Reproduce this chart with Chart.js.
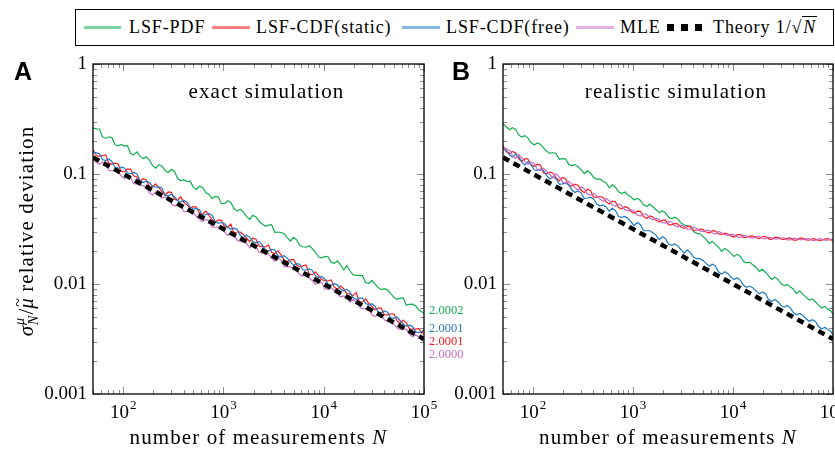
<!DOCTYPE html>
<html>
<head>
<meta charset="utf-8">
<script src="https://cdn.jsdelivr.net/npm/chart.js@4.4.1/dist/chart.umd.min.js"></script>
<style>
  body { margin: 0; width: 835px; height: 450px; overflow: hidden; background: #fff; position: relative; font-family: "Liberation Serif", serif; }
  canvas { position: absolute; top: 0; }
  #cA { left: 0; }
  #cB { left: 450px; }
  #legend { position: absolute; left: 75px; top: 9px; width: 757px; height: 35px; border: 1.3px solid #000; }
  .ln { position: absolute; top: 26px; height: 2.5px; opacity: 0.55; }
  .sq { position: absolute; top: 24px; width: 7px; height: 7px; background: #000; }
  .tx { position: absolute; top: 18px; font-size: 18px; line-height: 18px; letter-spacing: 0.9px; white-space: nowrap; color: #000; }
</style>
</head>
<body>
<div id="legend"></div>
<div class="ln" style="left:84px;width:37px;background:#12b04f"></div>
<div class="tx" style="left:129px">LSF-PDF</div>
<div class="ln" style="left:212px;width:38px;background:#ff1a1a"></div>
<div class="tx" style="left:256px">LSF-CDF(static)</div>
<div class="ln" style="left:402px;width:38px;background:#1f7ac4"></div>
<div class="tx" style="left:446px">LSF-CDF(free)</div>
<div class="ln" style="left:576px;width:38px;background:#c86ec8"></div>
<div class="tx" style="left:620px">MLE</div>
<div class="sq" style="left:667px"></div>
<div class="sq" style="left:681px"></div>
<div class="sq" style="left:695px"></div>
<div class="tx" style="left:713px">Theory 1/√<span style="border-top:1px solid #000;font-style:italic;padding:0 1px">N</span></div>

<canvas id="cA" width="480" height="450"></canvas>
<canvas id="cB" width="385" height="450"></canvas>

<script>
// number of measurements
const Ns = [50, 54, 58, 62, 67, 72, 77, 83, 89, 95, 103, 110, 119, 127, 137, 147, 158, 170, 183, 196, 211, 227, 244, 262, 281, 302, 325, 349, 375, 403, 433, 465,
  500, 537, 577, 620, 667, 716, 770, 827, 889, 955, 1027, 1103, 1186, 1274, 1369, 1471, 1581, 1699, 1826, 1962, 2109, 2265, 2435, 2616, 2812, 3021, 3247, 3489, 3750, 4029, 4330, 4652,
  5000, 5372, 5774, 6204, 6668, 7164, 7700, 8273, 8891, 9554, 10267, 11033, 11856, 12741, 13691, 14713, 15811, 16990, 18257, 19620, 21083, 22657, 24346, 26165, 28117, 30215, 32468, 34892, 37495, 40293, 43299, 46531,
  50000, 53728, 57737, 62045, 66676, 71650, 76997, 82741, 88914, 95546, 100000];

// A: exact simulation
const pdfA = [0.2616, 0.2574, 0.2566, 0.2185, 0.2106, 0.2180, 0.2142, 0.1846, 0.1803, 0.1856, 0.1796, 0.1816, 0.1525, 0.1497, 0.1590, 0.1453, 0.1384, 0.1432, 0.1332, 0.1192, 0.1129, 0.1212, 0.1179, 0.1077, 0.1026, 0.1103, 0.1055, 0.0910, 0.0868, 0.0888, 0.0855, 0.0860,
  0.0760, 0.0724, 0.0774, 0.0753, 0.0678, 0.0655, 0.0598, 0.0627, 0.0617, 0.0537, 0.0537, 0.0571, 0.0552, 0.0485, 0.0460, 0.0478, 0.0450, 0.0410, 0.0386, 0.0421, 0.0407, 0.0372, 0.0351, 0.0334, 0.0343, 0.0347, 0.0295, 0.0297, 0.0294, 0.0286, 0.0264, 0.0246,
  0.0266, 0.0252, 0.0224, 0.0218, 0.0216, 0.0223, 0.0210, 0.0194, 0.0176, 0.0173, 0.0178, 0.0177, 0.0158, 0.0154, 0.0162, 0.0149, 0.0134, 0.0147, 0.0132, 0.0121, 0.0120, 0.0119, 0.0119, 0.0103, 0.0101, 0.0108, 0.00999, 0.00927, 0.00888, 0.00908, 0.00885, 0.00818,
  0.00760, 0.00724, 0.00740, 0.00749, 0.00642, 0.00654, 0.00655, 0.00630, 0.00580, 0.00556, 0.00544];
const staticA = [0.1669, 0.1471, 0.1448, 0.1474, 0.1494, 0.1249, 0.1231, 0.1254, 0.1230, 0.1061, 0.1046, 0.1115, 0.1102, 0.0964, 0.0940, 0.0863, 0.0907, 0.0883, 0.0770, 0.0762, 0.0813, 0.0751, 0.0692, 0.0641, 0.0686, 0.0680, 0.0588, 0.0577, 0.0620, 0.0553, 0.0524, 0.0490,
  0.0505, 0.0501, 0.0437, 0.0429, 0.0461, 0.0418, 0.0389, 0.0364, 0.0382, 0.0379, 0.0331, 0.0328, 0.0351, 0.0290, 0.0297, 0.0297, 0.0282, 0.0262, 0.0243, 0.0262, 0.0255, 0.0222, 0.0219, 0.0217, 0.0226, 0.0194, 0.0188, 0.0200, 0.0185, 0.0165, 0.0160, 0.0166,
  0.0167, 0.0148, 0.0143, 0.0146, 0.0149, 0.0123, 0.0121, 0.0129, 0.0119, 0.0110, 0.0107, 0.0107, 0.0109, 0.00936, 0.00898, 0.00958, 0.00906, 0.00819, 0.00814, 0.00784, 0.00834, 0.00689, 0.00686, 0.00731, 0.00668, 0.00626, 0.00583, 0.00605, 0.00604, 0.00526, 0.00524, 0.00534,
  0.00536, 0.00465, 0.00441, 0.00470, 0.00441, 0.00391, 0.00389, 0.00389, 0.00395, 0.00355, 0.00386];
const freeA = [0.1584, 0.1556, 0.1527, 0.1355, 0.1323, 0.1372, 0.1299, 0.1151, 0.1124, 0.1156, 0.1135, 0.1026, 0.1001, 0.1038, 0.1000, 0.0872, 0.0835, 0.0859, 0.0836, 0.0777, 0.0758, 0.0764, 0.0743, 0.0641, 0.0632, 0.0656, 0.0622, 0.0572, 0.0558, 0.0578, 0.0553, 0.0500,
  0.0479, 0.0487, 0.0474, 0.0420, 0.0426, 0.0438, 0.0422, 0.0371, 0.0356, 0.0362, 0.0353, 0.0328, 0.0314, 0.0322, 0.0314, 0.0276, 0.0264, 0.0277, 0.0267, 0.0243, 0.0237, 0.0244, 0.0227, 0.0203, 0.0200, 0.0206, 0.0204, 0.0181, 0.0176, 0.0181, 0.0172, 0.0160,
  0.0148, 0.0153, 0.0151, 0.0134, 0.0134, 0.0137, 0.0133, 0.0119, 0.0114, 0.0117, 0.0111, 0.00997, 0.00973, 0.0100, 0.00983, 0.00898, 0.00867, 0.00898, 0.00844, 0.00755, 0.00723, 0.00744, 0.00744, 0.00667, 0.00644, 0.00662, 0.00627, 0.00555, 0.00547, 0.00568, 0.00553, 0.00495,
  0.00487, 0.00501, 0.00466, 0.00433, 0.00414, 0.00422, 0.00410, 0.00367, 0.00362, 0.00372, 0.00379];
const mleA = [0.1386, 0.1273, 0.1224, 0.1277, 0.1225, 0.1078, 0.1071, 0.1083, 0.1050, 0.0965, 0.0908, 0.0967, 0.0928, 0.0817, 0.0812, 0.0803, 0.0779, 0.0763, 0.0673, 0.0644, 0.0689, 0.0640, 0.0602, 0.0622, 0.0579, 0.0537, 0.0511, 0.0527, 0.0522, 0.0454, 0.0457, 0.0461,
  0.0443, 0.0411, 0.0387, 0.0370, 0.0387, 0.0376, 0.0328, 0.0328, 0.0329, 0.0315, 0.0296, 0.0275, 0.0296, 0.0279, 0.0251, 0.0243, 0.0244, 0.0234, 0.0213, 0.0227, 0.0218, 0.0194, 0.0191, 0.0193, 0.0187, 0.0172, 0.0161, 0.0172, 0.0165, 0.0144, 0.0144, 0.0143,
  0.0137, 0.0136, 0.0121, 0.0118, 0.0123, 0.0114, 0.0107, 0.00992, 0.0104, 0.0103, 0.00898, 0.00898, 0.00927, 0.00872, 0.00812, 0.00761, 0.00779, 0.00747, 0.00681, 0.00725, 0.00689, 0.00620, 0.00596, 0.00596, 0.00590, 0.00524, 0.00505, 0.00533, 0.00526, 0.00470, 0.00457, 0.00457,
  0.00434, 0.00398, 0.00387, 0.00391, 0.00387, 0.00348, 0.00331, 0.00346, 0.00328, 0.00308, 0.00303];

// B: realistic simulation
const pdfB = [0.2857, 0.2687, 0.2527, 0.2632, 0.2547, 0.2253, 0.2165, 0.2234, 0.2121, 0.1930, 0.1836, 0.1915, 0.1855, 0.1727, 0.1607, 0.1538, 0.1567, 0.1527, 0.1362, 0.1377, 0.1371, 0.1226, 0.1186, 0.1218, 0.1163, 0.1097, 0.1010, 0.1071, 0.1022, 0.0930, 0.0894, 0.0904,
  0.0859, 0.0832, 0.0749, 0.0799, 0.0759, 0.0689, 0.0663, 0.0685, 0.0644, 0.0617, 0.0581, 0.0602, 0.0575, 0.0523, 0.0508, 0.0530, 0.0503, 0.0473, 0.0445, 0.0463, 0.0444, 0.0405, 0.0393, 0.0405, 0.0389, 0.0358, 0.0344, 0.0340, 0.0330, 0.0300, 0.0289, 0.0286,
  0.0271, 0.0255, 0.0234, 0.0245, 0.0228, 0.0216, 0.0198, 0.0210, 0.0202, 0.0189, 0.0178, 0.0186, 0.0178, 0.0160, 0.0156, 0.0158, 0.0149, 0.0142, 0.0130, 0.0136, 0.0128, 0.0119, 0.0110, 0.0115, 0.0110, 0.0101, 0.00966, 0.00993, 0.00939, 0.00898, 0.00818, 0.00866,
  0.00805, 0.00760, 0.00716, 0.00732, 0.00689, 0.00642, 0.00605, 0.00626, 0.00590, 0.00570, 0.00525];
const staticB = [0.1819, 0.1591, 0.1536, 0.1607, 0.1552, 0.1369, 0.1308, 0.1384, 0.1363, 0.1216, 0.1175, 0.1229, 0.1199, 0.1028, 0.1004, 0.1042, 0.1018, 0.0918, 0.0869, 0.0930, 0.0908, 0.0795, 0.0778, 0.0809, 0.0790, 0.0714, 0.0677, 0.0726, 0.0710, 0.0618, 0.0612, 0.0624,
  0.0612, 0.0560, 0.0533, 0.0567, 0.0557, 0.0495, 0.0482, 0.0504, 0.0495, 0.0455, 0.0439, 0.0460, 0.0458, 0.0409, 0.0396, 0.0416, 0.0407, 0.0379, 0.0368, 0.0379, 0.0383, 0.0347, 0.0345, 0.0356, 0.0351, 0.0329, 0.0321, 0.0333, 0.0335, 0.0308, 0.0308, 0.0316,
  0.0312, 0.0297, 0.0291, 0.0306, 0.0303, 0.0285, 0.0283, 0.0290, 0.0285, 0.0274, 0.0267, 0.0281, 0.0281, 0.0266, 0.0267, 0.0273, 0.0272, 0.0263, 0.0259, 0.0269, 0.0271, 0.0257, 0.0255, 0.0265, 0.0265, 0.0256, 0.0255, 0.0260, 0.0262, 0.0251, 0.0251, 0.0261,
  0.0261, 0.0252, 0.0250, 0.0259, 0.0256, 0.0249, 0.0251, 0.0256, 0.0258, 0.0250, 0.0250];
const freeB = [0.1697, 0.1640, 0.1500, 0.1421, 0.1519, 0.1445, 0.1276, 0.1208, 0.1294, 0.1220, 0.1086, 0.1076, 0.1111, 0.1075, 0.0966, 0.0897, 0.0946, 0.0907, 0.0807, 0.0814, 0.0826, 0.0799, 0.0718, 0.0679, 0.0704, 0.0674, 0.0599, 0.0605, 0.0615, 0.0594, 0.0533, 0.0514,
  0.0523, 0.0501, 0.0458, 0.0487, 0.0465, 0.0411, 0.0404, 0.0411, 0.0396, 0.0366, 0.0340, 0.0362, 0.0346, 0.0305, 0.0305, 0.0305, 0.0292, 0.0277, 0.0253, 0.0269, 0.0259, 0.0231, 0.0225, 0.0231, 0.0221, 0.0204, 0.0191, 0.0204, 0.0193, 0.0175, 0.0170, 0.0170,
  0.0164, 0.0154, 0.0145, 0.0151, 0.0146, 0.0129, 0.0123, 0.0129, 0.0124, 0.0115, 0.0110, 0.0114, 0.0108, 0.00973, 0.00932, 0.00958, 0.00922, 0.00867, 0.00814, 0.00844, 0.00820, 0.00723, 0.00692, 0.00724, 0.00691, 0.00638, 0.00616, 0.00638, 0.00604, 0.00547, 0.00524, 0.00539,
  0.00519, 0.00483, 0.00458, 0.00474, 0.00457, 0.00410, 0.00392, 0.00403, 0.00385, 0.00369, 0.00341];
const mleB = [0.1682, 0.1707, 0.1632, 0.1468, 0.1388, 0.1499, 0.1405, 0.1290, 0.1220, 0.1279, 0.1247, 0.1100, 0.1074, 0.1127, 0.1057, 0.0991, 0.0919, 0.1004, 0.0942, 0.0849, 0.0822, 0.0854, 0.0818, 0.0754, 0.0714, 0.0765, 0.0734, 0.0656, 0.0643, 0.0670, 0.0631, 0.0594,
  0.0564, 0.0600, 0.0572, 0.0523, 0.0509, 0.0531, 0.0517, 0.0474, 0.0462, 0.0473, 0.0458, 0.0424, 0.0415, 0.0435, 0.0430, 0.0396, 0.0383, 0.0395, 0.0387, 0.0361, 0.0358, 0.0369, 0.0366, 0.0339, 0.0331, 0.0343, 0.0334, 0.0316, 0.0316, 0.0328, 0.0320, 0.0304,
  0.0300, 0.0309, 0.0306, 0.0291, 0.0285, 0.0300, 0.0292, 0.0281, 0.0277, 0.0283, 0.0281, 0.0268, 0.0264, 0.0276, 0.0272, 0.0265, 0.0261, 0.0271, 0.0270, 0.0259, 0.0257, 0.0267, 0.0263, 0.0257, 0.0257, 0.0262, 0.0263, 0.0252, 0.0252, 0.0261, 0.0258, 0.0253,
  0.0253, 0.0258, 0.0257, 0.0249, 0.0249, 0.0259, 0.0256, 0.0250, 0.0250, 0.0256, 0.0255];

// theory 1/sqrt(N), end points of the line
const theoryN = [50, 100000];
const theoryY = [0.1414, 0.00316];

// fitted slopes printed next to panel A
const slopeText = ['2.0002', '2.0001', '2.0001', '2.0000'];

const yTickVals = [1, 0.1, 0.01, 0.001];
const yTickText = ['1', '0.1', '0.01', '0.001'];
const xTickVals = [100, 1000, 10000, 100000];
const xTickExp = ['2', '3', '4', '5'];

const GREEN = '#12b04f', RED = '#ff1a1a', BLUE = '#1f7ac4', VIOLET = '#c86ec8';
const SERIF = '"Liberation Serif", serif';

function pts(xs, ys) { return xs.map((n, i) => ({ x: n, y: ys[i] })); }

function spacing(ctx, s) { if ('letterSpacing' in ctx) ctx.letterSpacing = s; }

function decorate(chart, o) {
  const ctx = chart.ctx, a = chart.chartArea;
  const xs = chart.scales.x, ys = chart.scales.y;
  ctx.save();
  // ticks on all four sides, pointing in
  ctx.strokeStyle = '#8c8c8c';
  ctx.lineWidth = 1;
  ctx.beginPath();
  for (let e = 1; e <= 5; e++) {
    for (let m = 1; m <= 9; m++) {
      const v = m * Math.pow(10, e);
      if (v < 50 || v > 100000) continue;
      const px = Math.round(xs.getPixelForValue(v)) + 0.5;
      const len = m === 1 ? 7 : 4;
      ctx.moveTo(px, a.bottom); ctx.lineTo(px, a.bottom - len);
      ctx.moveTo(px, a.top); ctx.lineTo(px, a.top + len);
    }
  }
  for (let e = -3; e <= 0; e++) {
    for (let m = 1; m <= 9; m++) {
      const v = m * Math.pow(10, e);
      if (v > 1.0001) continue;
      const py = Math.round(ys.getPixelForValue(v)) + 0.5;
      const len = m === 1 ? 7 : 4;
      ctx.moveTo(a.left, py); ctx.lineTo(a.left + len, py);
      ctx.moveTo(a.right, py); ctx.lineTo(a.right - len, py);
    }
  }
  ctx.stroke();
  ctx.strokeStyle = '#000';
  ctx.lineWidth = 1.3;
  ctx.strokeRect(a.left, a.top, a.right - a.left, a.bottom - a.top);

  // x tick labels 10^k
  ctx.fillStyle = '#000';
  ctx.textAlign = 'left';
  ctx.textBaseline = 'alphabetic';
  xTickVals.forEach((v, i) => {
    const px = xs.getPixelForValue(v);
    ctx.font = '19px ' + SERIF;
    const w1 = ctx.measureText('10').width;
    ctx.font = '13px ' + SERIF;
    const w2 = ctx.measureText(xTickExp[i]).width;
    const x0 = px - (w1 + w2 + 1) / 2;
    ctx.font = '19px ' + SERIF;
    ctx.fillText('10', x0, 418);
    ctx.font = '13px ' + SERIF;
    ctx.fillText(xTickExp[i], x0 + w1 + 1, 409);
  });

  // panel title
  const cx = (a.left + a.right) / 2;
  ctx.font = '21px ' + SERIF;
  spacing(ctx, '1.1px');
  ctx.textAlign = 'center';
  ctx.fillText(o.title, cx + 8, 98);

  // x axis title
  ctx.textAlign = 'left';
  const s1 = 'number of measurements ';
  const w1 = ctx.measureText(s1).width;
  ctx.font = 'italic 21px ' + SERIF;
  const w2 = ctx.measureText('N').width;
  const x0 = cx - (w1 + w2) / 2;
  ctx.font = '21px ' + SERIF;
  ctx.fillText(s1, x0, 444);
  ctx.font = 'italic 21px ' + SERIF;
  ctx.fillText('N', x0 + w1, 444);
  spacing(ctx, '0px');

  // panel letter
  ctx.font = 'bold 25px "Liberation Sans", sans-serif';
  ctx.fillText(o.letter, o.letterX, 80);

  if (o.yTitle) drawYTitle(ctx);
  if (o.slopes) {
    ctx.font = '12.5px ' + SERIF;
    const cols = [GREEN, BLUE, RED, VIOLET];
    const base = [314, 332, 345, 358];
    slopeText.forEach((t, i) => {
      ctx.fillStyle = cols[i];
      ctx.fillText(t, a.right + 5, base[i]);
    });
  }
  ctx.restore();
}

function drawYTitle(ctx) {
  ctx.save();
  ctx.translate(33, 231);
  ctx.rotate(-Math.PI / 2);
  ctx.fillStyle = '#000';
  ctx.textAlign = 'left';
  const big = '21px ' + SERIF, bigI = 'italic 21px ' + SERIF, smI = 'italic 14px ' + SERIF;
  const rest = ' relative deviation';
  ctx.font = bigI; const wS = ctx.measureText('σ').width;
  ctx.font = smI; const wSup = Math.max(ctx.measureText('μ').width, ctx.measureText('N').width);
  ctx.font = big; const wSl = ctx.measureText('/').width;
  ctx.font = bigI; const wM = ctx.measureText('μ').width;
  ctx.font = big; spacing(ctx, '1.1px'); const wR = ctx.measureText(rest).width; spacing(ctx, '0px');
  const total = wS + wSup + 2 + wSl + wM + wR;
  let x = -total / 2;
  ctx.font = bigI; ctx.fillText('σ', x, 0); x += wS;
  ctx.font = smI; ctx.fillText('μ', x + 1, -9); ctx.fillText('N', x + 1, 5); x += wSup + 2;
  ctx.font = big; ctx.fillText('/', x, 0); x += wSl;
  ctx.font = bigI; ctx.fillText('μ', x, 0);
  ctx.font = '16px ' + SERIF; ctx.fillText('~', x + 2, -10); x += wM;
  ctx.font = big; spacing(ctx, '1.1px'); ctx.fillText(rest, x, 0);
  ctx.restore();
}

function makePanel(id, series, o) {
  const sets = [
    { label: 'Theory 1/√N', data: pts(theoryN, theoryY), borderColor: '#000', borderWidth: 4.5, borderDash: [7, 5], order: 0 },
    { label: 'MLE', data: pts(Ns, series[3]), borderColor: VIOLET, borderWidth: 1.2, order: 1 },
    { label: 'LSF-CDF(free)', data: pts(Ns, series[2]), borderColor: BLUE, borderWidth: 1.2, order: 2 },
    { label: 'LSF-CDF(static)', data: pts(Ns, series[1]), borderColor: RED, borderWidth: 1.2, order: 3 },
    { label: 'LSF-PDF', data: pts(Ns, series[0]), borderColor: GREEN, borderWidth: 1.2, order: 4 }
  ];
  sets.forEach(s => { s.pointRadius = 0; s.fill = false; s.tension = 0; });
  return new Chart(document.getElementById(id), {
    type: 'line',
    data: { datasets: sets },
    options: {
      responsive: false,
      animation: false,
      layout: { padding: { left: 0, right: o.padRight, top: 64, bottom: 0 } },
      plugins: { legend: { display: false }, tooltip: { enabled: false } },
      scales: {
        x: {
          type: 'logarithmic', min: 50, max: 100000,
          grid: { display: false, drawTicks: false }, border: { display: false },
          ticks: { display: false },
          afterFit: s => { s.height = 56; }
        },
        y: {
          type: 'logarithmic', min: 0.001, max: 1,
          grid: { display: false, drawTicks: false }, border: { display: false },
          ticks: {
            color: '#000', padding: 6, autoSkip: false,
            font: { family: 'Liberation Serif', size: 19 },
            callback: v => {
              const i = yTickVals.findIndex(t => Math.abs(Math.log10(v) - Math.log10(t)) < 1e-6);
              return i >= 0 ? yTickText[i] : '';
            }
          },
          afterFit: s => { s.width = o.yWidth; }
        }
      }
    },
    plugins: [{ id: 'deco' + id, afterDraw: c => decorate(c, o) }]
  });
}

makePanel('cA', [pdfA, staticA, freeA, mleA],
  { title: 'exact simulation', letter: 'A', letterX: 14, yWidth: 93, padRight: 56, yTitle: true, slopes: true });
makePanel('cB', [pdfB, staticB, freeB, mleB],
  { title: 'realistic simulation', letter: 'B', letterX: 2, yWidth: 53, padRight: 2, yTitle: false, slopes: false });
</script>
</body>
</html>
